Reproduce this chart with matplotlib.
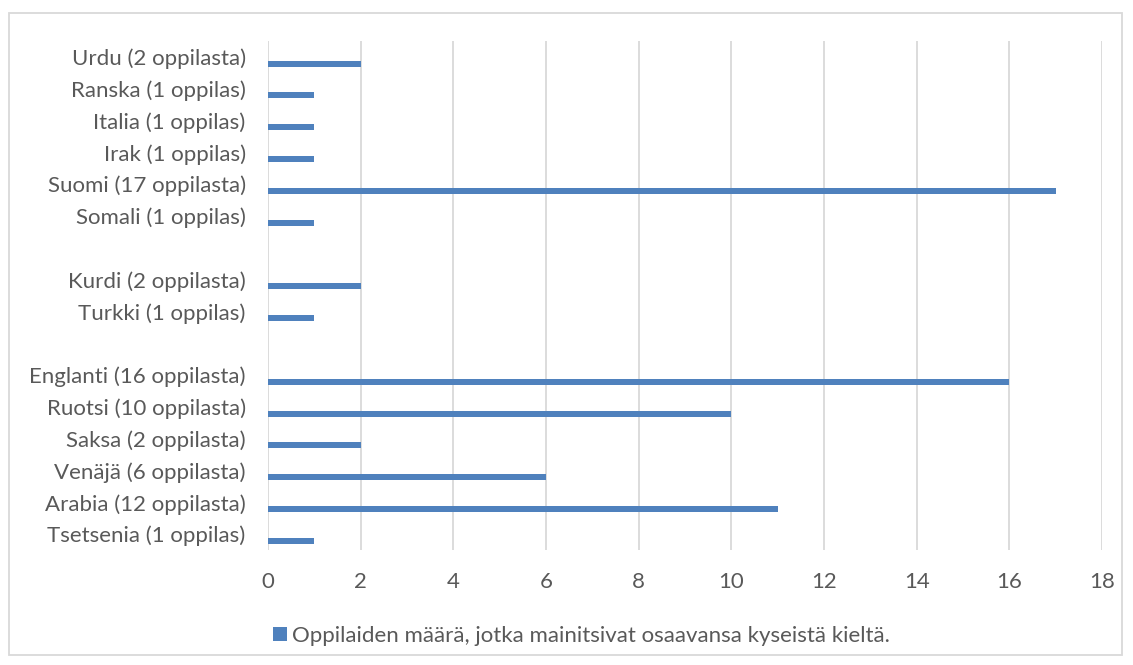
import matplotlib.pyplot as plt
from matplotlib.patches import Rectangle
import numpy as np

plt.rcParams['font.family'] = ['Lato', 'DejaVu Sans']

labels = ["Urdu (2 oppilasta)", "Ranska (1 oppilas)", "Italia (1 oppilas)",
          "Irak (1 oppilas)", "Suomi (17 oppilasta)", "Somali (1 oppilas)", "",
          "Kurdi (2 oppilasta)", "Turkki (1 oppilas)", "",
          "Englanti (16 oppilasta)", "Ruotsi (10 oppilasta)", "Saksa (2 oppilasta)",
          "Venäjä (6 oppilasta)", "Arabia (12 oppilasta)", "Tsetsenia (1 oppilas)"]
values = [2, 1, 1, 1, 17, 1, 0, 2, 1, 0, 16, 10, 2, 6, 11, 1]
legend_label = "Oppilaiden määrä, jotka mainitsivat osaavansa kyseistä kieltä."

blue = "#4f81bd"
grey = "#595959"

fig = plt.figure(figsize=(11.33, 6.65), dpi=100)
ax = fig.add_axes([0.2365, 0.1729, 0.7361, 0.7654])

pos = np.arange(len(labels))
ax.barh(pos + 0.21, values, height=0.19, color=blue, label=legend_label, zorder=3)

ax.set_xlim(0, 18)
ax.set_ylim(len(labels) - 0.5, -0.5)
ax.set_xticks(range(0, 19, 2))
ax.set_yticks(pos)
ax.set_yticklabels(labels)
ax.tick_params(axis='both', length=0, labelsize=16, labelcolor=grey)
ax.tick_params(axis='x', pad=16)
ax.tick_params(axis='y', pad=16)
ax.grid(axis='x', color="#d9d9d9", linewidth=1.3, zorder=0)
for s in ax.spines.values():
    s.set_visible(False)

fig.legend(loc='center', bbox_to_anchor=(0.513, 0.044), frameon=False,
           fontsize=16, labelcolor=grey, handlelength=0.65, handleheight=0.65,
           handletextpad=0.2)

fig.patches.append(Rectangle((9 / 1133, 10 / 665), 1113 / 1133, 642 / 665,
                             transform=fig.transFigure, fill=False,
                             edgecolor="#d9d9d9", linewidth=1.3))

fig.savefig("out.png", dpi=100)
